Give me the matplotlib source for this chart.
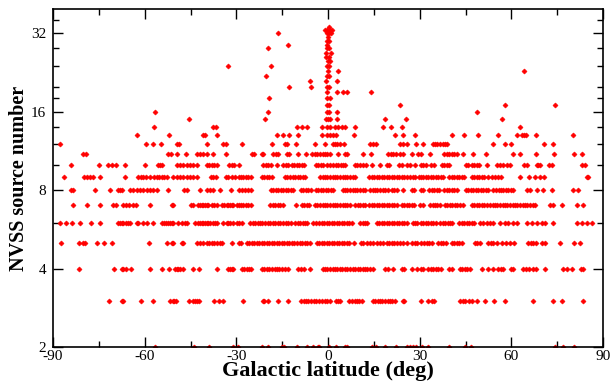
import numpy as np
import matplotlib
matplotlib.use("Agg")
import matplotlib.pyplot as plt
from matplotlib.ticker import FixedLocator, NullFormatter, FixedFormatter

# Galactic latitude (deg) of each sky cell, grouped by its NVSS source count
lat_2 = [-56.6, -43.9, -39.0, -31.2, -29.6, -21.5, -19.7, -15.2, -14.3, -10.2, -6.8, -4.8,
         -3.3, -2.8, 0.2, 2.6, 5.6, 6.3, 14.3, 15.7, 18.7, 22.1, 25.7, 26.8, 27.7, 28.8,
         30.6, 32.6, 39.7, 44.8, 46.8, 74.3, 76.8, 80.5]

lat_3 = [-71.7, -67.5, -67.0, -61.2, -57.4, -51.7, -50.8, -50.3, -49.8, -45.5, -44.3, -43.5,
         -42.8, -42.1, -37.3, -35.7, -34.3, -27.7, -21.4, -20.8, -19.5, -16.3, -13.2,
         -8.8, -8.0, -7.2, -6.4, -5.6, -4.7, -3.8, -2.9, -2.0, -1.1, -0.3, 0.6, 2.6, 3.3,
         3.9, 7.0, 7.8, 8.7, 9.5, 10.3, 11.0, 14.6, 15.4, 16.2, 17.0, 17.8, 18.7, 19.5,
         20.3, 21.1, 21.9, 24.4, 24.9, 30.4, 32.8, 33.9, 34.6, 43.2, 44.1, 44.9, 46.3,
         47.0, 48.7, 51.4, 54.3, 57.9, 67.0, 73.5, 76.5, 83.6]

lat_4 = [-81.5, -70.0, -67.5, -67.0, -66.1, -64.6, -58.3, -54.2, -52.0, -50.1, -49.5, -49.0,
         -48.4, -47.6, -44.3, -42.1, -36.2, -32.6, -32.1, -31.5, -31.0, -28.2, -27.5, -26.6,
         -25.9, -25.2, -21.7, -20.9, -20.0, -19.2, -18.3, -17.4, -16.8, -15.9, -14.9, -14.1,
         -13.0, -9.9, -8.9, -7.9, -5.9, -1.7, -1.0, -0.2, 0.7, 1.5, 2.3, 3.0, 3.9, 4.7, 5.6,
         6.3, 7.2, 8.1, 8.8, 9.7, 10.5, 11.4, 12.1, 12.9, 13.7, 14.6, 18.7, 19.7, 21.4,
         24.1, 24.9, 27.4, 29.0, 30.4, 31.2, 32.8, 33.6, 34.5, 35.3, 36.1, 36.9, 39.7, 40.5,
         43.2, 44.0, 44.8, 45.6, 46.5, 50.3, 52.5, 53.9, 55.7, 56.6, 57.2, 59.8, 60.6, 63.7,
         64.8, 65.9, 67.2, 68.1, 71.0, 76.8, 78.1, 79.8, 82.7, 83.6]

lat_5 = [-87.5, -81.5, -80.1, -79.5, -75.7, -73.2, -70.8, -58.6, -52.8, -51.2, -50.6, -47.9,
         -47.3, -42.8, -41.9, -40.8, -39.7, -38.8, -38.0, -37.2, -36.4, -35.4, -34.8, -31.5,
         -29.1, -28.5, -26.4, -25.7, -25.0, -24.2, -23.3, -22.5, -21.7, -20.8, -20.1, -19.2,
         -18.4, -17.6, -16.8, -15.9, -15.2, -14.3, -13.5, -12.7, -11.9, -11.0, -10.2, -9.2,
         -8.4, -7.5, -6.8, -5.9, -3.7, -2.9, -2.1, -1.3, -0.4, 0.3, 1.2, 2.0, 2.8, 3.6, 4.5,
         5.2, 6.1, 6.9, 8.5, 10.7, 11.6, 12.7, 13.7, 14.8, 15.9, 17.0, 18.1, 19.2, 20.1,
         20.8, 21.6, 22.5, 23.6, 24.6, 25.8, 27.4, 28.5, 29.2, 30.4, 31.4, 32.3, 33.2, 34.0,
         36.1, 36.9, 37.7, 38.6, 40.5, 41.3, 42.1, 43.0, 43.8, 48.1, 48.9, 49.8, 52.5, 53.2,
         54.1, 55.4, 56.8, 58.3, 59.6, 61.0, 65.6, 66.4, 67.2, 68.1, 69.9, 71.0, 75.9, 80.5,
         82.5]

lat_6 = [-87.7, -85.8, -83.7, -81.0, -77.7, -74.6, -68.6, -68.1, -67.5, -67.0, -66.1, -65.4,
         -64.8, -62.6, -62.1, -60.5, -59.3, -57.2, -54.4, -53.7, -53.0, -52.3, -51.7, -51.2,
         -50.6, -49.0, -47.9, -46.8, -46.0, -43.5, -42.4, -41.9, -41.3, -40.8, -40.3, -39.7,
         -39.2, -38.6, -37.5, -37.0, -36.4, -34.5, -33.2, -32.6, -32.1, -31.0, -29.9, -29.1,
         -28.2, -25.5, -24.6, -23.9, -23.0, -22.3, -21.5, -20.6, -19.7, -19.0, -18.1, -17.3,
         -16.5, -15.7, -14.6, -13.7, -13.0, -12.1, -10.8, -9.9, -9.2, -8.3, -7.5, -6.8,
         -4.8, -3.9, -2.8, -2.1, -1.2, -0.4, 0.4, 1.2, 2.0, 2.8, 3.7, 4.5, 5.2, 6.1, 7.0,
         7.8, 10.5, 11.4, 12.1, 12.9, 15.9, 16.8, 17.6, 18.3, 19.2, 20.0, 20.9, 21.6, 22.5,
         23.3, 24.1, 24.9, 25.8, 27.7, 28.5, 29.2, 30.4, 31.2, 32.1, 32.8, 33.7, 34.5, 35.4,
         36.7, 37.5, 38.3, 39.2, 39.9, 40.7, 43.0, 43.8, 44.5, 45.4, 46.3, 47.0, 47.9, 49.8,
         50.8, 51.9, 53.0, 54.1, 56.3, 57.9, 59.0, 60.5, 61.8, 65.0, 66.7, 68.3, 69.9, 71.0,
         73.6, 81.4, 83.0, 84.7, 86.3]

lat_7 = [-83.4, -79.0, -74.6, -70.3, -69.4, -67.2, -66.1, -65.0, -63.7, -62.8, -58.3, -51.2,
         -50.6, -44.9, -44.3, -42.4, -41.9, -41.3, -40.8, -40.3, -39.7, -39.2, -38.0, -37.3,
         -36.4, -34.8, -34.2, -33.2, -32.6, -32.1, -31.5, -31.0, -29.9, -29.1, -28.5, -27.7,
         -26.8, -26.1, -25.3, -19.0, -18.1, -17.4, -16.5, -15.7, -14.6, -10.5, -8.6, -7.9,
         -7.0, -6.1, -4.3, -3.5, -2.6, -1.7, -1.0, -0.2, 0.6, 1.5, 2.3, 3.1, 3.9, 4.8, 5.6,
         6.3, 7.2, 8.8, 9.7, 10.5, 11.3, 12.1, 13.5, 14.3, 15.1, 15.9, 16.8, 17.6, 18.3,
         19.2, 20.1, 20.8, 21.6, 22.5, 24.1, 24.9, 25.7, 26.5, 27.4, 28.1, 30.1, 31.2, 33.4,
         34.3, 35.0, 35.8, 36.7, 38.3, 39.1, 39.9, 40.7, 41.6, 42.3, 43.2, 44.1, 47.0, 47.8,
         48.7, 49.4, 50.3, 51.2, 51.9, 53.0, 53.9, 54.7, 55.4, 56.3, 57.2, 57.9, 58.7, 59.6,
         60.4, 61.2, 62.0, 62.8, 63.7, 64.5, 65.2, 66.1, 67.0, 67.8, 72.7, 73.5, 76.5, 81.4,
         83.4]

lat_8 = [-84.2, -83.4, -76.3, -71.4, -68.6, -68.1, -67.5, -64.8, -63.7, -62.6, -61.5, -60.4,
         -59.4, -58.3, -57.2, -56.1, -52.3, -47.1, -46.3, -41.9, -39.7, -38.6, -37.5, -35.4,
         -31.8, -29.0, -28.3, -27.2, -26.1, -25.3, -18.8, -17.9, -17.0, -16.3, -15.5, -14.6,
         -13.8, -13.0, -12.2, -11.3, -8.9, -8.1, -7.2, -6.4, -5.7, -3.9, -3.2, -2.4, -1.5,
         -0.7, 0.1, 0.9, 1.7, 4.8, 5.6, 6.3, 7.2, 8.1, 8.8, 9.6, 10.5, 11.3, 12.1, 13.7,
         14.6, 15.4, 16.1, 17.0, 17.9, 18.7, 19.7, 20.8, 21.6, 22.5, 24.7, 27.4, 28.1, 30.4,
         31.2, 33.2, 33.9, 34.7, 35.6, 36.4, 38.0, 38.8, 39.7, 40.5, 41.2, 42.1, 45.2, 45.9,
         46.7, 47.6, 48.4, 49.2, 50.0, 50.8, 51.7, 52.5, 54.1, 55.0, 55.8, 56.5, 57.4, 58.3,
         59.0, 59.8, 60.7, 65.0, 66.1, 68.3, 70.3, 73.2, 80.3, 81.9]

lat_9 = [-86.4, -79.9, -79.0, -77.9, -77.0, -74.6, -66.4, -62.1, -61.3, -60.4, -59.6, -58.3,
         -57.0, -56.1, -55.2, -54.4, -53.7, -52.8, -50.6, -49.5, -48.4, -47.4, -46.3, -45.2,
         -44.1, -43.0, -38.4, -37.7, -36.7, -33.4, -32.6, -31.5, -30.4, -29.1, -28.5, -27.7,
         -26.8, -26.1, -25.3, -21.7, -21.0, -20.1, -19.2, -18.4, -14.1, -13.3, -12.4, -11.5,
         -10.8, -9.9, -9.2, -8.3, -7.5, -2.6, -1.7, -1.0, -0.2, 0.6, 1.5, 2.3, 3.1, 3.9,
         4.8, 5.6, 6.3, 7.2, 8.1, 8.8, 13.5, 14.3, 15.1, 15.9, 16.8, 17.6, 18.3, 19.2, 20.1,
         20.8, 21.6, 22.5, 23.3, 24.1, 24.9, 25.7, 26.8, 27.7, 28.5, 29.9, 30.4, 31.2, 32.1,
         32.8, 33.7, 34.5, 35.3, 36.1, 36.9, 37.7, 39.7, 40.5, 41.2, 42.1, 43.0, 43.7, 44.5,
         47.0, 47.8, 48.7, 49.5, 50.3, 51.1, 52.5, 53.6, 54.7, 55.7, 56.5, 62.8, 65.9, 67.8,
         69.4, 70.7, 84.7, 85.2]

lat_10 = [-84.2, -74.8, -72.1, -70.8, -69.4, -66.4, -59.9, -55.5, -55.0, -54.4, -49.5, -48.4,
          -47.4, -46.3, -45.2, -44.1, -43.0, -39.7, -38.8, -38.1, -37.3, -36.4, -32.3, -31.5,
          -30.7, -29.1, -21.2, -20.3, -19.5, -18.8, -16.8, -14.6, -13.8, -13.0, -11.9, -11.1,
          -10.3, -9.4, -8.6, -7.9, -3.9, -3.2, -2.4, -1.5, -0.4, 0.6, 1.7, 2.6, 3.4, 4.3,
          5.0, 5.7, 8.8, 9.6, 10.5, 11.3, 12.4, 14.3, 17.0, 19.2, 20.1, 23.3, 24.1, 25.7,
          26.8, 28.5, 30.4, 31.2, 32.1, 33.7, 34.7, 37.2, 38.0, 38.8, 39.7, 45.2, 45.9, 47.0,
          47.8, 48.7, 49.5, 51.9, 55.2, 56.3, 57.4, 58.7, 59.6, 64.2, 65.0, 68.3, 68.8, 69.4,
          72.4, 73.2, 83.0, 84.1]

lat_11 = [-80.1, -79.3, -52.3, -51.5, -49.3, -46.5, -42.8, -41.9, -40.8, -39.7, -37.5, -33.4,
          -25.0, -24.2, -21.7, -21.2, -17.9, -17.0, -16.3, -13.5, -12.7, -9.7, -7.2, -5.3,
          -4.3, -3.5, -2.6, -1.7, -1.0, -0.2, 0.6, 3.4, 5.6, 6.3, 11.3, 14.0, 19.7, 20.5,
          21.4, 22.3, 23.6, 24.4, 27.4, 29.6, 30.4, 33.4, 38.0, 38.8, 39.7, 40.5, 41.2, 42.3,
          44.1, 47.6, 51.7, 60.4, 62.8, 68.1, 74.0, 80.5, 83.0]

lat_12 = [-87.7, -59.6, -57.2, -54.8, -49.5, -48.7, -39.7, -34.3, -33.4, -28.3, -18.4, -14.1,
          -13.3, -10.5, -4.3, -1.0, 1.5, 2.3, 3.1, 3.9, 5.2, 13.7, 14.6, 15.7, 23.6, 24.4,
          25.7, 28.8, 31.0, 34.3, 35.0, 35.8, 36.7, 37.5, 38.3, 39.1, 53.9, 57.9, 59.8, 70.7,
          73.5]

lat_13 = [-62.4, -51.9, -41.0, -40.3, -36.4, -16.8, -14.8, -12.7, -9.7, -2.1, -0.2, 0.6,
          1.7, 2.6, 8.5, 21.9, 24.7, 28.5, 40.7, 44.5, 49.2, 55.5, 62.0, 63.4, 64.2, 64.8,
          68.1, 80.1]

# Sparse cells with 14 or more sources: (latitude, count) pairs
high_lat = [-57.0, -37.6, -36.5, -10.3, -8.6, -7.0, -2.1, -0.4, 0.6, 2.3, 3.4, 4.5, 5.6, 8.8,
            18.1, 20.5, 24.3, 62.8,
            -45.4, -20.7, -0.7, 0.1, 0.6, 3.1, 18.7, 25.5, 57.1,
            -56.6, -19.5, -0.4, 0.3, 3.1, 48.9,
            -0.3, 0.4, 23.5, 57.9, 74.3,
            -19.2, -0.4, 0.6,
            -0.2, 2.8, 4.8, 6.3, 14.2,
            -12.7, -5.7, -0.3, 0.4,
            -5.8, -0.7, 2.8,
            -20.3, -0.2, 0.4,
            0.0, 3.4, 64.3,
            -32.6, -18.7, -0.3, 0.2,
            -0.1, 0.5,
            -0.5, 0.2,
            -0.7, 1.0,
            -19.5, -0.4, 0.3,
            -13.2, -0.2,
            -0.4, 0.2,
            0.1,
            -16.3, -0.4, 0.4, 1.0,
            -1.0, -0.2, 0.6, 1.2,
            0.2]
high_num = [14, 14, 14, 14, 14, 14, 14, 14, 14, 14, 14, 14, 14, 14,
            14, 14, 14, 14,
            15, 15, 15, 15, 15, 15, 15, 15, 15,
            16, 16, 16, 16, 16, 16,
            17, 17, 17, 17, 17,
            18, 18, 18,
            19, 19, 19, 19, 19,
            20, 20, 20, 20,
            21, 21, 21,
            22, 22, 22,
            23, 23, 23,
            24, 24, 24, 24,
            25, 25,
            26, 26,
            27, 27,
            28, 28, 28,
            29, 29,
            30, 30,
            31,
            32, 32, 32, 32,
            33, 33, 33, 33,
            34]

levels = {2: lat_2, 3: lat_3, 4: lat_4, 5: lat_5, 6: lat_6, 7: lat_7, 8: lat_8,
          9: lat_9, 10: lat_10, 11: lat_11, 12: lat_12, 13: lat_13}

xs, ys = [], []
for n, lats in levels.items():
    xs.extend(lats)
    ys.extend([n] * len(lats))
xs.extend(high_lat)
ys.extend(high_num)

plt.rcParams['font.family'] = ['Liberation Serif', 'DejaVu Serif']
plt.rcParams['axes.unicode_minus'] = False

fig = plt.figure(figsize=(6.1, 3.85), dpi=100)
ax = fig.add_axes([53 / 610, 1 - 347 / 385, 550 / 610, 338 / 385])

ax.plot(xs, ys, linestyle='none', marker='D', markersize=2.6,
        markerfacecolor='#ff0000', markeredgecolor='#ff0000', markeredgewidth=0.4)

ax.set_yscale('log', base=2)
ax.set_xlim(-90, 90)
ax.set_ylim(2, 39.7)

ax.xaxis.set_major_locator(FixedLocator([-90, -60, -30, 0, 30, 60, 90]))
ax.xaxis.set_minor_locator(FixedLocator([-75, -45, -15, 15, 45, 75]))
ax.yaxis.set_major_locator(FixedLocator([2, 4, 8, 16, 32]))
ax.yaxis.set_major_formatter(FixedFormatter(['2', '4', '8', '16', '32']))
ax.yaxis.set_minor_locator(FixedLocator([6, 10, 12, 14, 18, 20, 24, 28, 36]))
ax.yaxis.set_minor_formatter(NullFormatter())

ax.tick_params(which='both', direction='in', top=True, right=True,
               labelsize=11, width=1.0, colors='black')
ax.tick_params(which='major', length=7.5)
ax.tick_params(which='minor', length=4)
ax.tick_params(axis='x', which='major', pad=2)
ax.tick_params(axis='y', which='major', pad=5)

for s in ax.spines.values():
    s.set_linewidth(1.2)

ax.set_xlabel('Galactic latitude (deg)', fontsize=16, fontweight='bold', labelpad=-1)
ax.set_ylabel('NVSS source number', fontsize=14.5, fontweight='bold', labelpad=1)

fig.savefig('out.png', dpi=100)
